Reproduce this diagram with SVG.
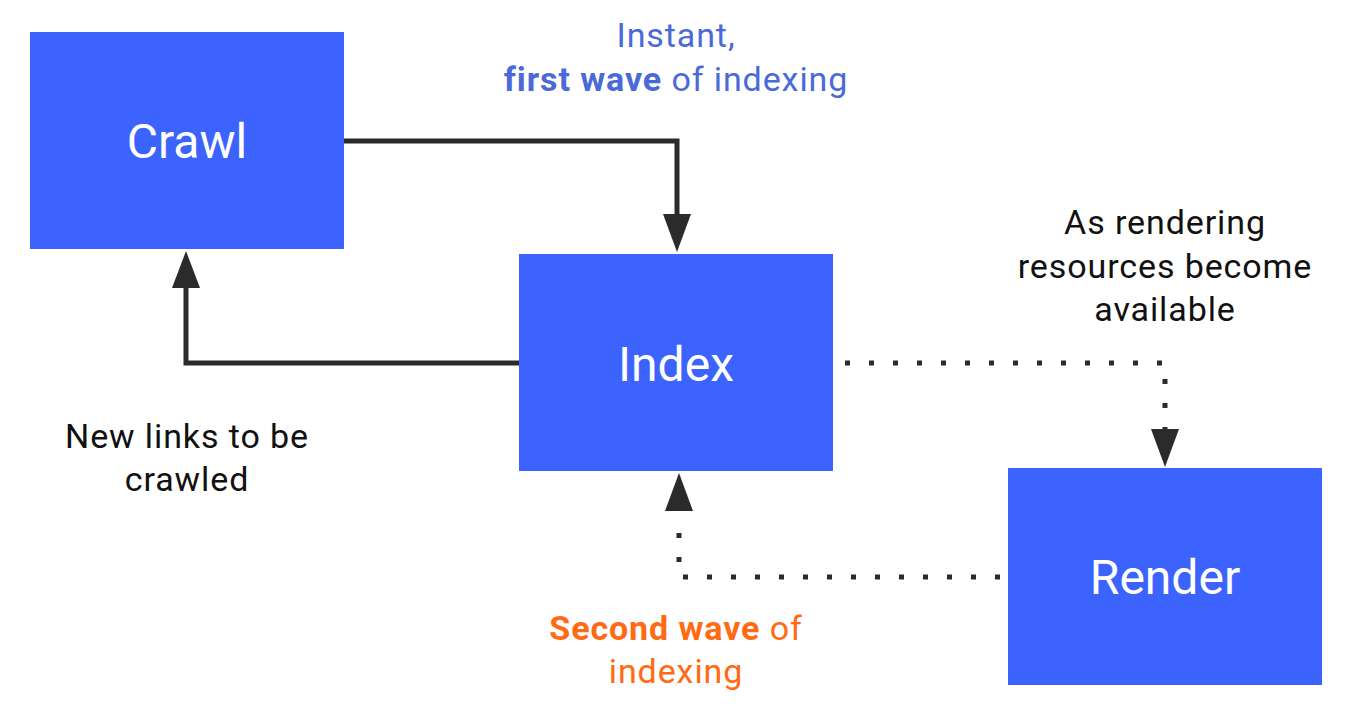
<svg xmlns="http://www.w3.org/2000/svg" width="1369" height="723" viewBox="0 0 1369 723">
<style>
.box{fill:#3d63fe}
.nt{font-family:Roboto,"Liberation Sans",sans-serif;font-size:48px;fill:#fff;text-anchor:middle}
.lb{font-family:Roboto,"Liberation Sans",sans-serif;font-size:34px;letter-spacing:0.9px;text-anchor:middle}
.solid{fill:none;stroke:#2b2b2b;stroke-width:5}
.dot{fill:none;stroke:#2b2b2b;stroke-width:5;stroke-dasharray:5 19}
.head{fill:#2b2b2b}
</style>
<rect width="1369" height="723" fill="#fff"/>
<g id="connectors">
<polyline class="solid" points="344,141 677,141 677,220"/>
<polygon class="head" points="663,214 691,214 677,252"/>
<polyline class="solid" points="519,363 186,363 186,285"/>
<polygon class="head" points="172,288 200,288 186,251"/>
<polyline class="dot" points="845,363 1165,363 1165,440"/>
<polygon class="head" points="1151,429 1179,429 1165,467"/>
<polyline class="dot" points="1000,577 679,577 679,515"/>
<polygon class="head" points="665,511 693,511 679,473"/>
</g>
<g id="crawl"><rect class="box" x="30" y="32" width="314" height="217"/><text class="nt" x="187" y="158">Crawl</text></g>
<g id="index"><rect class="box" x="519" y="254" width="314" height="217"/><text class="nt" x="676" y="381">Index</text></g>
<g id="render"><rect class="box" x="1008" y="468" width="314" height="217"/><text class="nt" x="1165" y="594">Render</text></g>
<g id="labels">
<text class="lb" x="676" y="47" fill="#4a6ad8">Instant,</text>
<text class="lb" x="676" y="91" fill="#4a6ad8"><tspan font-weight="bold">first wave</tspan> of indexing</text>
<text class="lb" x="1165" y="234" fill="#111">As rendering</text>
<text class="lb" x="1165" y="278" fill="#111">resources become</text>
<text class="lb" x="1165" y="321" fill="#111">available</text>
<text class="lb" x="187" y="448" fill="#111">New links to be</text>
<text class="lb" x="187" y="491" fill="#111">crawled</text>
<text class="lb" x="676" y="640" fill="#ff6a13"><tspan font-weight="bold">Second wave</tspan> of</text>
<text class="lb" x="676" y="683" fill="#ff6a13">indexing</text>
</g>
</svg>
